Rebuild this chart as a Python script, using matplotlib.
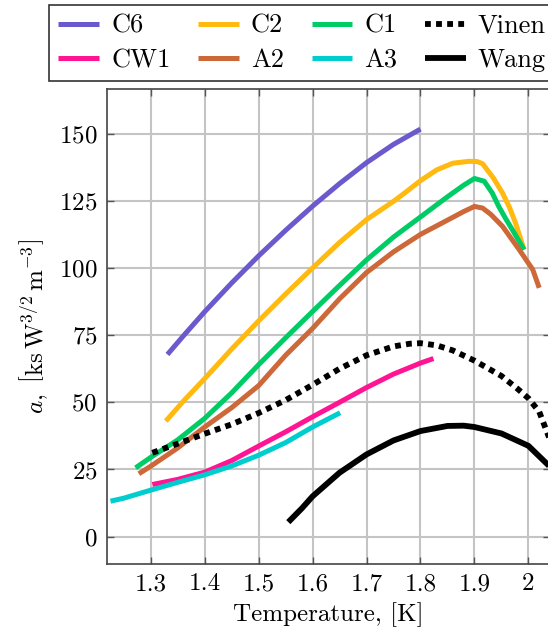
import matplotlib
matplotlib.use("Agg")
import matplotlib.pyplot as plt
from matplotlib.ticker import FixedLocator

plt.rcParams.update({
    "font.family": "serif",
    "font.serif": ["cmr10"],
    "mathtext.fontset": "cm",
    "axes.formatter.use_mathtext": True,
    "font.size": 18,
})

# Temperature (K) and coefficient a (ks W^{3/2} m^-3) for each data set
c6_T = [1.331, 1.36, 1.40, 1.45, 1.50, 1.55, 1.60, 1.65, 1.70, 1.75, 1.80]
c6_a = [67.8, 74.6, 83.7, 94.4, 104.5, 114.0, 123.0, 131.4, 139.2, 146.0, 151.7]

c2_T = [1.328, 1.36, 1.40, 1.45, 1.50, 1.55, 1.60, 1.65, 1.70, 1.75, 1.77, 1.80, 1.83,
        1.86, 1.89, 1.905, 1.915, 1.935, 1.952, 1.965, 1.976, 1.992]
c2_a = [43.0, 50.3, 58.8, 69.8, 80.3, 90.3, 100.0, 109.5, 118.0, 124.8, 127.8, 132.5, 136.5,
        139.0, 139.7, 139.6, 138.8, 133.5, 127.9, 122.5, 116.8, 106.8]

c1_T = [1.272, 1.30, 1.35, 1.40, 1.45, 1.50, 1.55, 1.60, 1.65, 1.70, 1.75, 1.80, 1.85,
        1.88, 1.90, 1.918, 1.933, 1.945, 1.958, 1.970, 1.992]
c1_a = [25.6, 29.5, 36.0, 44.0, 53.5, 64.0, 74.0, 83.8, 93.5, 103.0, 111.5, 119.0, 126.5,
        130.8, 133.3, 132.3, 127.9, 122.9, 118.3, 114.3, 106.8]

a2_T = [1.278, 1.30, 1.35, 1.40, 1.45, 1.50, 1.55, 1.60, 1.65, 1.70, 1.75, 1.80, 1.85,
        1.88, 1.90, 1.915, 1.93, 1.952, 1.983, 2.008, 2.020]
a2_a = [23.4, 26.2, 33.0, 40.8, 48.0, 56.2, 67.5, 77.5, 88.5, 98.3, 106.0, 112.5, 117.8,
        121.0, 122.9, 122.3, 120.0, 115.5, 106.8, 99.4, 92.6]

cw1_T = [1.303, 1.35, 1.40, 1.45, 1.50, 1.55, 1.60, 1.65, 1.70, 1.75, 1.80, 1.824]
cw1_a = [19.4, 21.3, 24.0, 28.3, 33.7, 39.0, 44.6, 50.0, 55.5, 60.5, 64.6, 66.3]

a3_T = [1.2255, 1.25, 1.30, 1.35, 1.40, 1.45, 1.50, 1.55, 1.60, 1.651]
a3_a = [13.2, 14.3, 17.3, 20.2, 23.0, 26.3, 30.3, 35.0, 40.8, 46.1]

vinen_T = [1.303, 1.35, 1.40, 1.45, 1.50, 1.55, 1.60, 1.65, 1.70, 1.75, 1.78, 1.80, 1.83,
           1.86, 1.90, 1.95, 1.98, 2.00, 2.02, 2.04, 2.06]
vinen_a = [31.2, 34.6, 38.3, 41.8, 46.0, 50.8, 56.5, 62.5, 67.5, 70.8, 71.8, 72.0, 71.2,
           69.3, 65.5, 59.8, 55.0, 51.5, 46.5, 36.0, 27.0]

wang_T = [1.555, 1.58, 1.60, 1.65, 1.70, 1.75, 1.80, 1.85, 1.88, 1.90, 1.95, 2.00, 2.04, 2.06]
wang_a = [5.4, 10.5, 15.0, 23.8, 30.6, 35.8, 39.3, 41.2, 41.3, 40.8, 38.4, 33.8, 26.0, 21.5]

x_ticks = [1.3, 1.4, 1.5, 1.6, 1.7, 1.8, 1.9, 2.0]
x_tick_labels = ["1.3", "1.4", "1.5", "1.6", "1.7", "1.8", "1.9", "2"]
y_ticks = [0, 25, 50, 75, 100, 125, 150]

W, H = 548, 631
fig = plt.figure(figsize=(W / 100, H / 100), dpi=100)
ax = fig.add_axes([107 / W, 1 - 563.5 / H, 443 / W, (563.5 - 89.3) / H])

lw = 3.6
blw = 4.2
kw = dict(solid_capstyle="butt", solid_joinstyle="round")
h_c6, = ax.plot(c6_T, c6_a, color="#6A5ACD", lw=lw, label="C6", **kw)
h_c2, = ax.plot(c2_T, c2_a, color="#FFB90F", lw=lw, label="C2", **kw)
h_c1, = ax.plot(c1_T, c1_a, color="#00CC66", lw=lw, label="C1", **kw)
h_a2, = ax.plot(a2_T, a2_a, color="#CD6839", lw=lw, label="A2", **kw)
h_cw1, = ax.plot(cw1_T, cw1_a, color="#FF1493", lw=lw, label="CW1", **kw)
h_a3, = ax.plot(a3_T, a3_a, color="#00CDCD", lw=lw, label="A3", **kw)
h_vin, = ax.plot(vinen_T, vinen_a, color="black", lw=blw, ls=(0, (1.0, 0.9)),
                 dash_capstyle="butt", label="Vinen")
h_wang, = ax.plot(wang_T, wang_a, color="black", lw=blw, label="Wang", **kw)

ax.set_xlim(1.219, 2.04)
ax.set_ylim(-10, 166.5)
ax.xaxis.set_major_locator(FixedLocator(x_ticks))
ax.set_xticklabels(x_tick_labels)
ax.yaxis.set_major_locator(FixedLocator(y_ticks))

ax.grid(True, color="#C4C4C4", lw=1.5)
ax.set_axisbelow(True)
ax.tick_params(direction="in", length=5, width=1, color="#555555",
               top=True, right=True, labelsize=18, pad=7)
for s in ax.spines.values():
    s.set_color("#444444")
    s.set_linewidth(1.2)

ax.set_xlabel("Temperature, [K]", fontsize=18, labelpad=5)
ax.set_ylabel(r"$a,\ \left[\mathrm{ks}\,\mathrm{W}^{3/2}\,\mathrm{m}^{-3}\right]$",
              fontsize=18, labelpad=6)

handles = [h_c6, h_cw1, h_c2, h_a2, h_c1, h_a3, h_vin, h_wang]
leg = fig.legend(handles=handles, labels=[h.get_label() for h in handles],
                 ncol=4, loc="upper left", bbox_to_anchor=(49 / W, 1 - 5 / H),
                 bbox_transform=fig.transFigure, borderaxespad=0,
                 fancybox=False, framealpha=1, edgecolor="#333333",
                 fontsize=19, handlelength=1.55, handletextpad=0.45,
                 columnspacing=1.05, labelspacing=0.4, borderpad=0.35)
leg.get_frame().set_linewidth(1.2)

fig.savefig("out.png", dpi=100)
